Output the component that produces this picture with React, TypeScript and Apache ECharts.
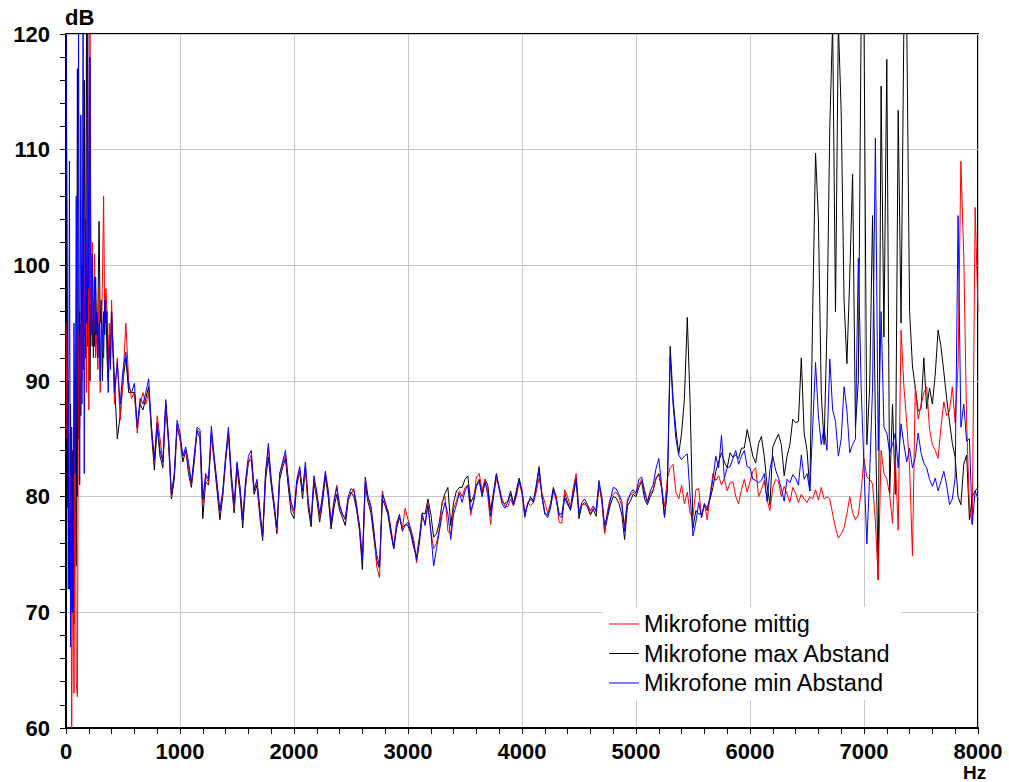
import React, { useEffect, useRef } from "react";
import * as echarts from "echarts";

// Frequency grid (Hz): fine step below 400 Hz, coarser above
const LOW_START_HZ = 0;
const LOW_STEP_HZ = 10;
const MAIN_START_HZ = 400;
const MAIN_STEP_HZ = 25;

const X_TICKS = [0, 1000, 2000, 3000, 4000, 5000, 6000, 7000, 8000];
const Y_TICKS = [60, 70, 80, 90, 100, 110, 120];

const SERIES_NAMES = ["Mikrofone mittig", "Mikrofone max Abstand", "Mikrofone min Abstand"];

// 0 .. 390 Hz (10 Hz step), dB
const lowMittig = [
  95, 85, 88, 78, 82, 60, 78, 63, 90, 64,
  62.7, 94, 86, 95, 90, 99, 94, 102, 89, 121,
  87.5, 121, 95, 102, 93, 101, 92, 94, 91, 98,
  89, 93, 99, 106, 95, 98, 96, 91, 95, 93,
];
const lowMax = [
  121, 79, 90, 72, 88, 70, 84, 69, 86, 74,
  117, 85, 96, 87, 100, 91, 116, 92, 121, 93,
  104, 90, 98, 93, 97, 93, 99, 94, 96, 103.8,
  95, 97, 90, 96, 94, 97, 92, 90, 94, 92,
];
const lowMin = [
  121, 104, 72, 109, 67, 86, 70, 95, 82, 106,
  80, 121, 81, 113, 88, 121, 82, 104, 95, 121,
  98, 118, 94, 101, 92, 99, 94, 96, 92, 95,
  90, 96, 94, 92, 97, 95, 96, 89, 93, 91,
];

// 400 .. 8000 Hz (25 Hz step), dB — one row per 100 Hz
const mainMittig = [
  97, 88, 92, 86.6, // 400
  90, 95, 90, 88.5, // 500
  89, 85.5, 88, 89, // 600
  88, 89, 86, 83, // 700
  87, 85, 83, 88, // 800
  85, 80, 82, 86.3, // 900
  85, 83.5, 84, 82.5, // 1000
  81, 83.5, 85.8, 85.5, // 1100
  79.3, 81.8, 81.2, 85.5, // 1200
  83.2, 81, 78.6, 80.2, // 1300
  83.3, 85.6, 81.8, 79, // 1400
  82.8, 80.8, 78.2, 81, // 1500
  83, 83.6, 80.5, 81.3, // 1600
  78.7, 76.5, 82, 84.2, // 1700
  81.4, 79.3, 77.1, 82, // 1800
  82.8, 83.6, 81.3, 79.2, // 1900
  78.5, 81.3, 82.3, 80.4, // 2000
  82.5, 79.3, 78, 81.5, // 2100
  80.2, 78.2, 80.2, 82, // 2200
  80.6, 77.8, 79.6, 81, // 2300
  79.2, 78.4, 78.3, 79.8, // 2400
  80.2, 80.7, 79.3, 77.3, // 2500
  74.5, 81.3, 79.8, 79, // 2600
  77.2, 74, 73, 80.5, // 2700
  79.3, 78.8, 77.3, 75.7, // 2800
  77.8, 78.3, 77.2, 79, // 2900
  78, 77.2, 76.3, 74.3, // 3000
  76.2, 78.2, 77.8, 79.5, // 3100
  77, 75.5, 76, 77.2, // 3200
  79.5, 80, 77, 76.8, // 3300
  79, 79.6, 80.5, 80, // 3400
  80.8, 81, 78.4, 79.6, // 3500
  81.7, 82, 80.5, 81.5, // 3600
  80, 77.6, 80.2, 81.5, // 3700
  80.9, 79.8, 79.2, 79.1, // 3800
  79.8, 79.2, 80, 81.3, // 3900
  80.2, 78.2, 79.5, 79.2, // 4000
  79.5, 80.4, 81.6, 80.3, // 4100
  79.5, 78.6, 79.2, 80.4, // 4200
  80.1, 77.8, 77.7, 80.6, // 4300
  80, 79.1, 80.8, 82, // 4400
  78.7, 79.3, 79.3, 79.2, // 4500
  78.6, 79, 78.9, 81, // 4600
  79.6, 76.8, 78.8, 79.9, // 4700
  80.2, 80.4, 80, 79.2, // 4800
  77.5, 79.8, 80.1, 80.4, // 4900
  80.2, 81, 81.5, 80.6, // 5000
  79.6, 80.3, 80.6, 81.5, // 5100
  81.9, 80.8, 79.1, 81.6, // 5200
  82.5, 82.8, 80.4, 79.8, // 5300
  81, 79.4, 80.4, 78.5, // 5400
  78.3, 80.6, 80.7, 78.2, // 5500
  79.4, 78, 80.2, 82, // 5600
  81.4, 81.8, 81, 81.6, // 5700
  80.5, 81.2, 81.3, 80, // 5800
  79.4, 80.6, 81.5, 80.4, // 5900
  81.3, 82.2, 82.5, 80, // 6000
  80.6, 81.4, 79.7, 78.8, // 6100
  80.8, 81.5, 81.3, 80, // 6200
  80.9, 80.2, 79.5, 80.8, // 6300
  80.3, 79.5, 80.2, 79.8, // 6400
  79.5, 80, 79.8, 80.6, // 6500
  79.7, 80.8, 79.8, 80, // 6600
  79.8, 78.5, 77.3, 76.4, // 6700
  76.8, 77.3, 78.5, 80, // 6800
  78.6, 78, 78.4, 80.5, // 6900
  83.3, 81.7, 81.5, 81.1, // 7000
  77.8, 72.8, 84, 82, // 7100
  81.5, 80.2, 77.7, 83.3, // 7200
  77.1, 94.4, 89.5, 86.4, // 7300
  82.5, 74.9, 89.5, 86.7, // 7400
  87.9, 89, 89.5, 85.8, // 7500
  84.5, 84, 83.3, 86, // 7600
  88.2, 87, 87.4, 89.5, // 7700
  86.4, 91.3, 109, 100.8, // 7800
  86.6, 79, 77.6, 105, // 7900
  96, // 8000
];

const mainMax = [
  96, 90, 85, 87, // 400
  90, 92, 89, 89, // 500
  89, 86, 88, 87.5, // 600
  88.5, 89.5, 85.5, 82.3, // 700
  86, 83.5, 82.5, 88, // 800
  84.5, 79.8, 81.5, 86, // 900
  85, 83, 84, 82, // 1000
  80.8, 83, 85.7, 85, // 1100
  78.1, 81.3, 81, 85.4, // 1200
  83, 80.5, 78, 80, // 1300
  83, 85.4, 81.3, 78.6, // 1400
  82.4, 80.4, 77.3, 80.8, // 1500
  83, 83.2, 80.2, 81, // 1600
  78.3, 76.2, 81.4, 83.4, // 1700
  81, 79, 76.8, 81.5, // 1800
  82.5, 83.3, 80.8, 78.6, // 1900
  78.1, 81, 82.2, 79.8, // 2000
  82.5, 79, 77.4, 81.2, // 2100
  79.8, 77.8, 79.5, 81.7, // 2200
  80, 77.2, 79, 80.2, // 2300
  78.8, 78.2, 77.5, 79.6, // 2400
  80.4, 80, 78.8, 77, // 2500
  73.7, 81, 79.5, 78.6, // 2600
  76.5, 74.5, 73.8, 79.8, // 2700
  79.2, 78.4, 76.8, 75.5, // 2800
  77.3, 78.2, 77.3, 77.6, // 2900
  77.5, 76.8, 75.6, 74.8, // 3000
  76.5, 78.6, 78.5, 79.8, // 3100
  78.5, 76.5, 76.8, 77.8, // 3200
  79.5, 80.3, 80.8, 77.5, // 3300
  79.5, 80.5, 80.8, 80.8, // 3400
  81.5, 81.8, 79.5, 80, // 3500
  81, 81.5, 80.3, 81.5, // 3600
  81, 78.8, 80.4, 82, // 3700
  80.8, 79.5, 79.4, 79.6, // 3800
  80.5, 79.4, 80.5, 81.6, // 3900
  80.5, 78.6, 79.3, 80, // 4000
  79.6, 81, 82.6, 80.1, // 4100
  78.6, 78.4, 79.4, 80.8, // 4200
  80, 78.5, 78.5, 80.3, // 4300
  79.5, 78.8, 80.1, 81.5, // 4400
  78.1, 79.3, 79.5, 79.1, // 4500
  78.4, 78.9, 78.3, 81, // 4600
  79.8, 77, 78.2, 79.3, // 4700
  80, 79.9, 79.4, 78.5, // 4800
  76.3, 79.2, 79.6, 80.2, // 4900
  80, 80.8, 81.3, 79.8, // 5000
  79.3, 80, 80.5, 81.6, // 5100
  82, 80.7, 78.2, 80.8, // 5200
  93, 88.5, 85.8, 83.7, // 5300
  85.5, 88.5, 95.5, 88, // 5400
  77.3, 78.8, 78.5, 78.5, // 5500
  79.2, 78.8, 79.8, 80.8, // 5600
  82.2, 83, 83.8, 83, // 5700
  82.5, 83.8, 83.4, 83.6, // 5800
  83.3, 84.2, 84.2, 85.8, // 5900
  84.7, 83.5, 82.9, 84.6, // 6000
  85.2, 83.5, 81, 79.3, // 6100
  84.3, 84.9, 85.4, 84.5, // 6200
  81.8, 83.5, 84.5, 86.7, // 6300
  86.4, 86.5, 92, 85.5, // 6400
  84, 80.5, 96, 109.7, // 6500
  104, 89, 84.5, 94.5, // 6600
  112, 121, 96, 121, // 6700
  113.3, 97, 91.5, 99, // 6800
  107.9, 86, 90, 121, // 6900
  121, 84.5, 89.5, 104.3, // 7000
  86.5, 72.8, 115.5, 93.8, // 7100
  117.8, 80.2, 88, 80.2, // 7200
  113.4, 95, 121, 121, // 7300
  96, 91.3, 89.4, 87.4, // 7400
  87.6, 92, 87.6, 89.4, // 7500
  88, 90.6, 94.4, 93, // 7600
  90.8, 88.5, 86.5, 84.6, // 7700
  83.4, 80, 79.3, 82.8, // 7800
  83.6, 78, 80, 80.5, // 7900
  80.8, // 8000
];

const mainMin = [
  96, 89, 91.6, 88, // 400
  91, 92.5, 89.5, 89, // 500
  89.8, 86, 88.5, 88, // 600
  89, 90.2, 86, 83.2, // 700
  86.4, 84, 83, 88.4, // 800
  85, 80.2, 82, 86.6, // 900
  85.5, 83.5, 84.3, 83, // 1000
  81.2, 83.5, 86, 85.8, // 1100
  79.8, 82, 81.5, 86.1, // 1200
  83.5, 81.2, 78.8, 80.5, // 1300
  83.5, 86, 82, 79.3, // 1400
  83, 81, 78, 81.4, // 1500
  83.5, 84, 80.6, 81.5, // 1600
  79, 76.6, 82, 84.6, // 1700
  81.5, 79.5, 77.3, 82, // 1800
  83, 84, 81.5, 79.5, // 1900
  78.8, 81.5, 82.6, 80.5, // 2000
  83, 79.6, 77.8, 81.8, // 2100
  80.4, 78.5, 80, 82.2, // 2200
  80.5, 77.6, 79.5, 80.8, // 2300
  79.3, 78.5, 78, 80, // 2400
  80.7, 80.5, 79, 77.5, // 2500
  74.5, 81.7, 80, 79.2, // 2600
  77, 75, 74, 80.2, // 2700
  79.6, 78.6, 77, 75.5, // 2800
  77.5, 78.5, 77, 77.5, // 2900
  77.8, 77, 76, 74.5, // 3000
  76, 78.5, 77.5, 79.2, // 3100
  77, 74, 75.5, 77, // 3200
  78.5, 79.5, 78.5, 76.3, // 3300
  78.5, 79.3, 80.3, 79.5, // 3400
  80.5, 81, 78.8, 79.5, // 3500
  80.9, 81.3, 80, 81.2, // 3600
  80.5, 78.3, 80, 81.9, // 3700
  80.6, 79.4, 79, 79.5, // 3800
  80.2, 79.3, 80.2, 81.4, // 3900
  80.5, 78.3, 79.4, 79.8, // 4000
  79.5, 80.8, 82.3, 80, // 4100
  78.5, 78.2, 79, 80.6, // 4200
  79.7, 78.4, 78.2, 79.9, // 4300
  79.3, 78.9, 80.4, 81.6, // 4400
  78.5, 79.5, 79.8, 79.3, // 4500
  78.8, 79.2, 78.7, 81.4, // 4600
  80, 77.5, 78.5, 79.7, // 4700
  80.8, 80.7, 80.2, 79.6, // 4800
  77, 79.5, 80.3, 80.6, // 4900
  80.3, 81.5, 81.7, 80.3, // 5000
  79.5, 80.5, 81, 82.4, // 5100
  83.3, 81, 78.3, 80.5, // 5200
  92.1, 88, 85, 83.6, // 5300
  83.2, 83.5, 83.7, 80, // 5400
  76.6, 77.8, 79.5, 78.2, // 5500
  79.4, 79, 80, 81.5, // 5600
  83.5, 82.5, 85.3, 81.6, // 5700
  82.5, 82.6, 83.3, 84, // 5800
  82.8, 83.5, 84, 82.6, // 5900
  82.5, 81.5, 81.4, 81.2, // 6000
  81.4, 82, 79.6, 82.4, // 6100
  83.5, 82.3, 81.6, 80.7, // 6200
  79.6, 81.5, 81.2, 81.9, // 6300
  81.6, 81, 83.6, 81.5, // 6400
  82, 80.5, 86, 91.6, // 6500
  87, 84.5, 86, 84, // 6600
  91.9, 87.5, 86.5, 83.5, // 6700
  85, 89.5, 87.5, 83.8, // 6800
  84.5, 85, 100.6, 89.5, // 6900
  82.5, 75.9, 82, 89.5, // 7000
  111, 84, 96, 86, // 7100
  85.5, 83.8, 84.5, 85.5, // 7200
  82.5, 86.3, 84.5, 83, // 7300
  84.2, 82.5, 83.4, 85.5, // 7400
  83.8, 82.9, 82.5, 81.5, // 7500
  80.9, 81.6, 80.5, 81.3, // 7600
  82.2, 81, 79.3, 79.8, // 7700
  81.7, 104.3, 86, 88, // 7800
  84.8, 85, 77.6, 80.5, // 7900
  79.8, // 8000
];

function toPairs(low: number[], main: number[]): [number, number][] {
  const out: [number, number][] = [];
  low.forEach((v, i) => out.push([LOW_START_HZ + i * LOW_STEP_HZ, v]));
  main.forEach((v, i) => out.push([MAIN_START_HZ + i * MAIN_STEP_HZ, v]));
  return out;
}

const FONT = '"Liberation Sans", Arial, Helvetica, sans-serif';

export default function App() {
  const ref = useRef<HTMLDivElement>(null);

  useEffect(() => {
    if (!ref.current) return;
    const chart = echarts.init(ref.current, undefined, { renderer: "svg" });

    const axisCommon = {
      axisLine: { show: true, onZero: false, lineStyle: { color: "#000", width: 2 } },
      axisTick: { show: true, length: 6, lineStyle: { color: "#000", width: 1 } },
      minorTick: { show: true, splitNumber: 5, length: 6, lineStyle: { color: "#000", width: 1 } },
      splitLine: { show: true, lineStyle: { color: "#c8c8c8", width: 1 } },
    };

    const option: any = {
      animation: false,
      backgroundColor: "#ffffff",
      grid: {
        left: 66,
        right: 31,
        top: 34,
        bottom: 54,
        show: true,
        borderColor: "#000",
        borderWidth: 2,
        backgroundColor: "transparent",
      },
      xAxis: {
        type: "value",
        min: X_TICKS[0],
        max: X_TICKS[X_TICKS.length - 1],
        interval: 1000,
        ...axisCommon,
        axisLabel: {
          color: "#000",
          fontSize: 22,
          fontWeight: "bold",
          fontFamily: FONT,
          margin: 12,
          formatter: (v: number) => String(v),
        },
      },
      yAxis: {
        type: "value",
        min: Y_TICKS[0],
        max: Y_TICKS[Y_TICKS.length - 1],
        interval: 10,
        ...axisCommon,
        axisLabel: {
          color: "#000",
          fontSize: 22,
          fontWeight: "bold",
          fontFamily: FONT,
          margin: 16,
          formatter: (v: number) => String(v),
        },
      },
      legend: {
        data: SERIES_NAMES,
        orient: "vertical",
        left: 603,
        top: 607,
        padding: [5, 10, 5, 6],
        itemGap: 5.5,
        itemWidth: 30,
        itemHeight: 1,
        icon: "rect",
        backgroundColor: "#ffffff",
        selectedMode: false,
        textStyle: { fontSize: 23.5, fontFamily: FONT, color: "#000", lineHeight: 23 },
      },
      graphic: [
        {
          type: "text",
          left: 65,
          top: 6,
          style: { text: "dB", font: `bold 22px ${FONT}`, fill: "#000" },
        },
        {
          type: "text",
          left: 963,
          top: 763,
          style: { text: "Hz", font: `bold 19px ${FONT}`, fill: "#000" },
        },
      ],
      series: [
        {
          name: SERIES_NAMES[1],
          type: "line",
          data: toPairs(lowMax, mainMax),
          showSymbol: false,
          symbol: "none",
          clip: true,
          color: "#000000",
          lineStyle: { color: "#000000", width: 1 },
          z: 2,
        },
        {
          name: SERIES_NAMES[0],
          type: "line",
          data: toPairs(lowMittig, mainMittig),
          showSymbol: false,
          symbol: "none",
          clip: true,
          color: "#ff0000",
          lineStyle: { color: "#ff0000", width: 1 },
          z: 3,
        },
        {
          name: SERIES_NAMES[2],
          type: "line",
          data: toPairs(lowMin, mainMin),
          showSymbol: false,
          symbol: "none",
          clip: true,
          color: "#0000ff",
          lineStyle: { color: "#0000ff", width: 1 },
          z: 4,
        },
      ],
    };

    chart.setOption(option);
    return () => {
      chart.dispose();
    };
  }, []);

  return (
    <div
      ref={ref}
      style={{ position: "fixed", left: 0, top: 0, width: 1009, height: 782, background: "#fff" }}
    />
  );
}
